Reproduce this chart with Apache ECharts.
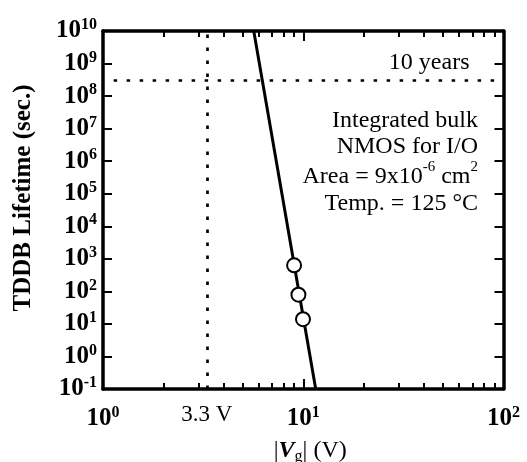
<!DOCTYPE html>
<html><head><meta charset="utf-8">
<script src="https://cdn.jsdelivr.net/npm/echarts@6/dist/echarts.min.js"></script>
<style>html,body{margin:0;padding:0;background:#fff}#c{width:527px;height:462px}</style>
</head><body><div id="c"></div>
<script>
const FONT = 'Liberation Serif';
// ---- data ----
const fitVoltage = [5.66, 11.54];          // |Vg| (V) of the fitted line ends
const fitLifetime = [1e10, 0.1];           // TDDB lifetime (s) at those ends
const measVoltage = [9.0, 9.46, 9.97];     // measured points |Vg| (V)
const measLifetime = [630, 79, 14];        // measured lifetime (s)
const xMajorTicks = [1, 10, 100];
const xMinorTicks = [2, 3, 4, 5, 6, 7, 8, 9, 20, 30, 40, 50, 60, 70, 80, 90];
const yTicks = [0.1, 1, 10, 100, 1e3, 1e4, 1e5, 1e6, 1e7, 1e8, 1e9, 1e10];
const tenYearsSec = 3.15e8;
const tenYearsLineFrom = 1.13;
const opVoltage = 3.3;
const noteLines = ['Integrated bulk', 'NMOS for I/O', '{r|Area = 9x10}{s|-6}{r| cm}{s|2}', 'Temp. = 125 °C'];

const chart = echarts.init(document.getElementById('c'), null, {renderer: 'canvas'});

const tickRich = {
  b: {fontFamily: FONT, fontWeight: 'bold', fontSize: 25, lineHeight: 28, color: '#000'},
  s: {fontFamily: FONT, fontWeight: 'bold', fontSize: 16, lineHeight: 10, verticalAlign: 'top', color: '#000'}
};
const powLabel = v => '{b|10}{s|' + Math.round(Math.log10(v)) + '}';
const tickLine = {color: '#000', width: 2};

// main log axes (data go through these); major ticks every decade
function xLogAxis(pos) {
  return {
    type: 'log', logBase: 10, min: xMajorTicks[0], max: xMajorTicks[xMajorTicks.length - 1],
    interval: 1, splitNumber: 2, position: pos, gridIndex: 0,
    axisLine: {show: true, onZero: false, lineStyle: {color: '#000', width: 3.5}},
    axisTick: {show: true, inside: true, length: 10, lineStyle: tickLine},
    axisLabel: pos === 'bottom' ? {
      show: true, customValues: xMajorTicks, formatter: powLabel, rich: tickRich, margin: 16
    } : {show: false},
    splitLine: {show: false}
  };
}
// minor x ticks at 2..9 x decade, placed on a log10-space value axis
function xMinorAxis(pos) {
  return {
    type: 'value', min: Math.log10(xMajorTicks[0]), max: Math.log10(xMajorTicks[xMajorTicks.length - 1]),
    position: pos, gridIndex: 0,
    axisLine: {show: false, onZero: false},
    axisTick: {show: true, inside: true, length: 6, customValues: xMinorTicks.map(Math.log10), lineStyle: tickLine},
    axisLabel: {show: false}, splitLine: {show: false}
  };
}
function yLogAxis(pos) {
  return {
    type: 'log', logBase: 10, min: yTicks[0], max: yTicks[yTicks.length - 1],
    interval: 1, splitNumber: 11, position: pos, gridIndex: 0,
    axisLine: {show: true, onZero: false, lineStyle: {color: '#000', width: 3.5}},
    axisTick: {show: true, inside: true, length: 9, lineStyle: tickLine},
    axisLabel: pos === 'left' ? {show: true, customValues: yTicks, formatter: powLabel,
      rich: tickRich, margin: 6, align: 'right'} : {show: false},
    splitLine: {show: false}
  };
}

const xAxes = [xLogAxis('bottom'), xLogAxis('top'), xMinorAxis('bottom'), xMinorAxis('top')];
xAxes[0].name = '{a||}{v|V}{g|g}{a|| (V)}';
xAxes[0].nameLocation = 'middle';
xAxes[0].nameGap = 48;
xAxes[0].nameTextStyle = {
  padding: [0, 0, 0, 14],
  rich: {
    a: {fontFamily: FONT, fontSize: 24, lineHeight: 28, color: '#000'},
    v: {fontFamily: FONT, fontSize: 24, fontWeight: 'bold', fontStyle: 'italic', lineHeight: 28, color: '#000'},
    g: {fontFamily: FONT, fontSize: 16, lineHeight: 10, verticalAlign: 'bottom', color: '#000'}
  }
};
const yAxes = [yLogAxis('left'), yLogAxis('right')];
yAxes[0].name = 'TDDB Lifetime (sec.)';
yAxes[0].nameLocation = 'middle';
yAxes[0].nameGap = 67;
yAxes[0].nameTextStyle = {fontFamily: FONT, fontWeight: 'bold', fontSize: 25, color: '#000', padding: [0, 0, 0, 24]};

const dotted = {color: '#000', width: 2.7, type: [3.5, 9.5]};

const option = {
  animation: false,
  backgroundColor: '#fff',
  grid: {left: 103, right: 23.5, top: 31, bottom: 73, containLabel: false, outerBoundsMode: 'none'},
  xAxis: xAxes,
  yAxis: yAxes,
  series: [
    {
      type: 'line', xAxisIndex: 0, yAxisIndex: 0,
      data: fitVoltage.map((v, i) => [v, fitLifetime[i]]),
      symbol: 'none', lineStyle: {color: '#000', width: 3}, z: 2,
      markLine: {
        silent: true, symbol: ['none', 'none'], animation: false,
        lineStyle: dotted,
        data: [
          {xAxis: opVoltage, label: {show: true, position: 'start', formatter: opVoltage + ' V',
            distance: 14.5, fontFamily: FONT, fontSize: 23, color: '#000'}},
          [
            {coord: [tenYearsLineFrom, tenYearsSec], label: {show: true, position: 'insideEndTop',
              formatter: '10 years', distance: [34, 5], fontFamily: FONT, fontSize: 24, color: '#000'}},
            {coord: [100, tenYearsSec]}
          ]
        ]
      }
    },
    {
      type: 'scatter', xAxisIndex: 0, yAxisIndex: 0,
      data: measVoltage.map((v, i) => [v, measLifetime[i]]),
      symbol: 'circle', symbolSize: 14, z: 3,
      itemStyle: {color: '#fff', borderColor: '#000', borderWidth: 2, opacity: 1}
    }
  ],
  graphic: noteLines.map((t, i) => ({
    type: 'text', x: 478, y: [121, 147, 177, 204][i], z: 10,
    style: {
      text: t, fill: '#000', font: '24px "' + FONT + '"', align: 'right', verticalAlign: 'middle',
      rich: {
        r: {fontFamily: FONT, fontSize: 24, lineHeight: 34, fill: '#000'},
        s: {fontFamily: FONT, fontSize: 15, lineHeight: 10, verticalAlign: 'top', fill: '#000'}
      }
    }
  }))
};
chart.setOption(option);
</script></body></html>
